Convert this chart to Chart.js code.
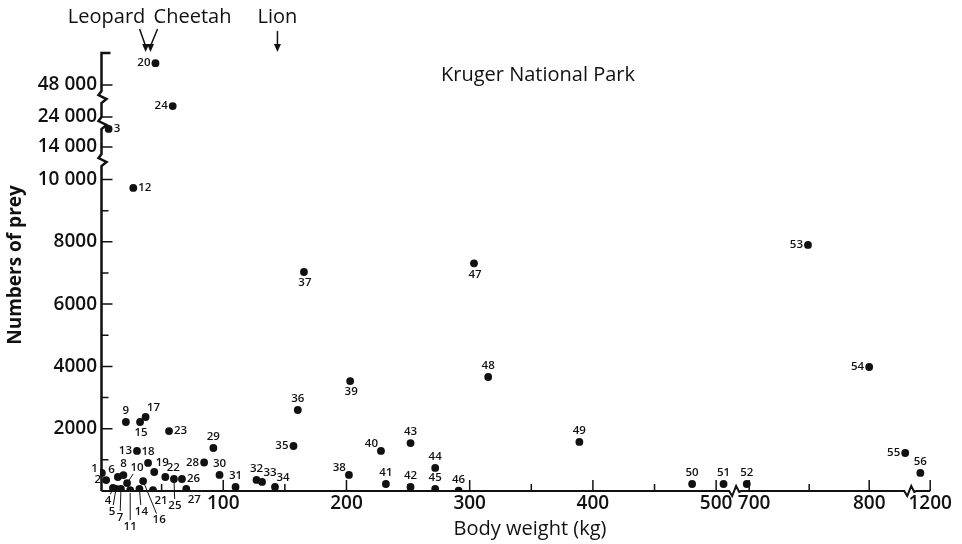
<!DOCTYPE html>
<html>
<head>
<meta charset="utf-8">
<title>Kruger National Park – prey numbers vs body weight</title>
<script src="https://cdn.jsdelivr.net/npm/chart.js@4.4.1/dist/chart.umd.min.js"></script>
<style>
  html, body { margin: 0; padding: 0; background: #fff; }
  #wrap { width: 962px; height: 544px; }
</style>
</head>
<body>
<div id="wrap"><canvas id="c" width="962" height="544"></canvas></div>
<script>
// Prey species (numbered 1–56), mean body weight and population counts
const preyIds = [
  1, 2, 3, 4, 5, 6, 7, 8, 9, 10, 11, 12, 13, 14, 15, 16, 17, 18, 19, 20,
  21, 22, 23, 24, 25, 26, 27, 28, 29, 30, 31, 32, 33, 34, 35, 36, 37, 38, 39, 40,
  41, 42, 43, 44, 45, 46, 47, 48, 49, 50, 51, 52, 53, 54, 55, 56
];
const bodyWeightKg = [
  1.5, 5, 7, 10.5, 13, 14.5, 17, 19, 21, 22, 24.5, 27, 30, 32, 32.5, 35, 37, 39, 44, 45,
  43, 53, 56, 59, 60, 66.5, 70, 84.5, 92, 97, 110, 127, 131.5, 142, 157, 160.5, 165.5, 202, 203, 228,
  232, 252, 252, 272, 272, 291, 303.5, 315, 389, 480.5, 506, 698, 749, 800, 830, 1192
];
const preyNumbers = [
  580, 350, 14580, 100, 65, 450, 65, 510, 2215, 255, 30, 9730, 1285, 65, 2215, 320, 2375, 900, 610, 48700,
  30, 450, 1925, 24350, 385, 385, 65, 915, 1380, 515, 130, 355, 290, 130, 1445, 2600, 7030, 515, 3530, 1285,
  225, 130, 1540, 740, 65, 10, 7310, 3660, 1575, 225, 225, 225, 7900, 3980, 1220, 580
];

// Predators and the prey body weight each one is marked at
const predators = ['Leopard', 'Cheetah', 'Lion'];
const predatorMarkKg = [37, 41, 144];

// Axis ticks
const xTickValues = [100, 200, 300, 400, 500, 700, 800, 1200];
const xTickLabels = ['100', '200', '300', '400', '500', '  700', '800', '1200'];
const xMinorTicks = [50, 150, 250, 350, 450, 750];
const yTickValues = [2000, 4000, 6000, 8000, 10000, 14000, 24000, 48000];
const yTickLabels = ['2000', '4000', '6000', '8000', '10 000', '14 000', '24 000', '48 000'];
const yMinorTicks = [1000, 3000, 5000, 7000, 9000];

// Broken axes: each segment is [first value, position on the continuous axis, stretch]
const xSegments = [[0, 0, 1], [688.3, 515.4, 0.974], [1183.8, 657.5, 1]];
const ySegments = [[0, 0, 1], [13583, 10626, 1], [23808, 11814, 1], [47614, 12648, 1]];

function toAxis(segs, v) {
  let s = segs[0];
  for (const seg of segs) if (v >= seg[0]) s = seg;
  return s[1] + (v - s[0]) * s[2];
}

// How each point's number label sits next to its dot
const labelPlacement = [
  'l1', 'l', 'r', 'L', 'L', 'al', 'L', 'a', 'a', 'L', 'L', 'r', 'l', 'L', 'b', 'L', 'ar', 'a', 'ar', 'l',
  'br', 'ar', 'r', 'l', 'L', 'r', 'br', 'l', 'a', 'a', 'a', 'a', 'ar', 'ar', 'l', 'a', 'b', 'al', 'b', 'al',
  'a', 'a', 'a', 'a', 'a', 'a', 'b', 'a', 'a', 'a', 'a', 'a', 'l', 'l', 'l', 'a'
];
// Labels in the crowded corner are pulled away and joined to their dot by a leader line
const leaderOffsets = {
  4: [-5, 13], 5: [-4, 23], 7: [-1, 29], 10: [10, -15],
  11: [0, 37], 14: [2, 23], 16: [16, 39], 25: [1, 27]
};
const placementStyle = {
  a:  { dx: 0,  dy: -11, align: 'center' },
  b:  { dx: 1,  dy: 11,  align: 'center' },
  l:  { dx: -5, dy: 0,   align: 'right' },
  l1: { dx: -4, dy: -4,  align: 'right' },
  r:  { dx: 5,  dy: 0,   align: 'left' },
  al: { dx: -3, dy: -7,  align: 'right' },
  ar: { dx: 8,  dy: -9,  align: 'center' },
  br: { dx: 8,  dy: 11,  align: 'center' }
};

const FONT = "'Open Sans', 'DejaVu Sans', sans-serif";
const INK = '#111';

const points = bodyWeightKg.map((w, i) => ({
  x: toAxis(xSegments, w),
  y: toAxis(ySegments, preyNumbers[i])
}));

function zigY(ctx, x, b) {
  ctx.lineTo(x, b + 6);
  ctx.lineTo(x + 5, b + 2);
  ctx.lineTo(x - 3, b - 2);
  ctx.lineTo(x, b - 6);
}
function zigX(ctx, b, y) {
  ctx.lineTo(b - 6, y);
  ctx.lineTo(b - 3, y + 5);
  ctx.lineTo(b + 1, y - 5);
  ctx.lineTo(b + 4, y + 1);
  ctx.lineTo(b + 6, y);
}

const decorations = {
  id: 'brokenAxesAndLabels',
  afterDatasetsDraw(chart) {
    const { ctx, chartArea: ca, scales: { x, y } } = chart;
    const px = v => x.getPixelForValue(toAxis(xSegments, v));
    const py = v => y.getPixelForValue(toAxis(ySegments, v));
    const x0 = ca.left + 1.5;
    const y0 = ca.bottom;

    ctx.save();
    ctx.strokeStyle = INK;
    ctx.fillStyle = INK;

    // y axis with breaks
    ctx.lineWidth = 2.5;
    ctx.beginPath();
    ctx.moveTo(x0, y0);
    ySegments.slice(1).forEach(s => zigY(ctx, x0, y.getPixelForValue(s[1])));
    ctx.lineTo(x0, ca.top);
    ctx.lineTo(x0 + 9, ca.top);
    ctx.stroke();

    // x axis with breaks
    ctx.lineWidth = 2;
    ctx.beginPath();
    ctx.moveTo(x0, y0);
    xSegments.slice(1).forEach(s => zigX(ctx, x.getPixelForValue(s[1]), y0));
    ctx.lineTo(px(1200), y0);
    ctx.stroke();

    // tick marks point into the plot
    ctx.lineWidth = 1.5;
    ctx.beginPath();
    yTickValues.forEach(v => { const p = py(v); ctx.moveTo(x0, p); ctx.lineTo(x0 + 11, p); });
    yMinorTicks.forEach(v => { const p = py(v); ctx.moveTo(x0, p); ctx.lineTo(x0 + 7, p); });
    xTickValues.forEach(v => { const p = px(v); ctx.moveTo(p, y0); ctx.lineTo(p, y0 - 11); });
    xMinorTicks.forEach(v => { const p = px(v); ctx.moveTo(p, y0); ctx.lineTo(p, y0 - 7); });
    ctx.stroke();

    // numbered labels for each prey species
    ctx.font = `600 11.5px ${FONT}`;
    ctx.textBaseline = 'middle';
    ctx.lineWidth = 1;
    preyIds.forEach((id, i) => {
      const cx = px(bodyWeightKg[i]);
      const cy = py(preyNumbers[i]);
      const code = labelPlacement[i];
      if (code === 'L') {
        const [dx, dy] = leaderOffsets[id];
        const len = Math.hypot(dx, dy);
        const ux = dx / len, uy = dy / len;
        ctx.beginPath();
        ctx.moveTo(cx + ux * 3, cy + uy * 3);
        ctx.lineTo(cx + dx - ux * 7, cy + dy - uy * 7);
        ctx.stroke();
        ctx.textAlign = 'center';
        ctx.fillText(String(id), cx + dx, cy + dy);
      } else {
        const st = placementStyle[code];
        ctx.textAlign = st.align;
        ctx.fillText(String(id), cx + st.dx, cy + st.dy);
      }
    });

    // predator markers above the plot
    ctx.font = `20px ${FONT}`;
    ctx.textBaseline = 'middle';
    ctx.textAlign = 'center';
    ctx.lineWidth = 1.5;
    const labelDx = [-39, 42, 0];
    const lineDx = [-6, 7, 0];
    predators.forEach((name, i) => {
      const ax = px(predatorMarkKg[i]);
      const tip = ca.top - 1;
      ctx.fillText(name, ax + labelDx[i], 17);
      ctx.beginPath();
      ctx.moveTo(ax + lineDx[i], i === 2 ? 31 : 29);
      ctx.lineTo(ax, tip - 6);
      ctx.stroke();
      ctx.beginPath();
      ctx.moveTo(ax, tip);
      ctx.lineTo(ax - 3.5, tip - 8);
      ctx.lineTo(ax + 3.5, tip - 8);
      ctx.closePath();
      ctx.fill();
    });

    // plot heading and axis titles
    ctx.font = `20px ${FONT}`;
    ctx.fillText('Kruger National Park', 538, 75);
    ctx.fillText('Body weight (kg)', 530, 529);
    ctx.save();
    ctx.translate(16, 265);
    ctx.rotate(-Math.PI / 2);
    ctx.font = `bold 19px ${FONT}`;
    ctx.fillText('Numbers of prey', 0, 0);
    ctx.restore();

    ctx.restore();
  }
};

new Chart(document.getElementById('c'), {
  type: 'scatter',
  data: {
    datasets: [{
      label: 'Prey species',
      data: points,
      pointRadius: 3.9,
      pointHoverRadius: 3.9,
      pointBackgroundColor: INK,
      pointBorderWidth: 0
    }]
  },
  options: {
    responsive: false,
    animation: false,
    devicePixelRatio: 1,
    layout: { padding: { top: 53, right: 26.5, bottom: 0, left: 0 } },
    plugins: { legend: { display: false }, tooltip: { enabled: false } },
    scales: {
      x: {
        type: 'linear',
        min: 0,
        max: 678,
        grid: { display: false, drawTicks: false },
        border: { display: false },
        afterBuildTicks: s => { s.ticks = xTickValues.map(v => ({ value: toAxis(xSegments, v) })); },
        ticks: {
          autoSkip: false, maxRotation: 0, padding: 1, color: INK,
          font: { family: FONT, size: 19, weight: '600' },
          callback: (v, i) => xTickLabels[i]
        },
        afterFit: s => { s.height = 53; s.paddingLeft = 0; s.paddingRight = 0; }
      },
      y: {
        type: 'linear',
        min: 0,
        max: 14061,
        grid: { display: false, drawTicks: false },
        border: { display: false },
        afterBuildTicks: s => { s.ticks = yTickValues.map(v => ({ value: toAxis(ySegments, v) })); },
        ticks: {
          autoSkip: false, padding: 3, color: INK,
          font: { family: FONT, size: 19, weight: '600' },
          callback: (v, i) => yTickLabels[i]
        },
        afterFit: s => { s.width = 100; s.paddingTop = 0; s.paddingBottom = 0; }
      }
    }
  },
  plugins: [decorations]
});
</script>
</body>
</html>
